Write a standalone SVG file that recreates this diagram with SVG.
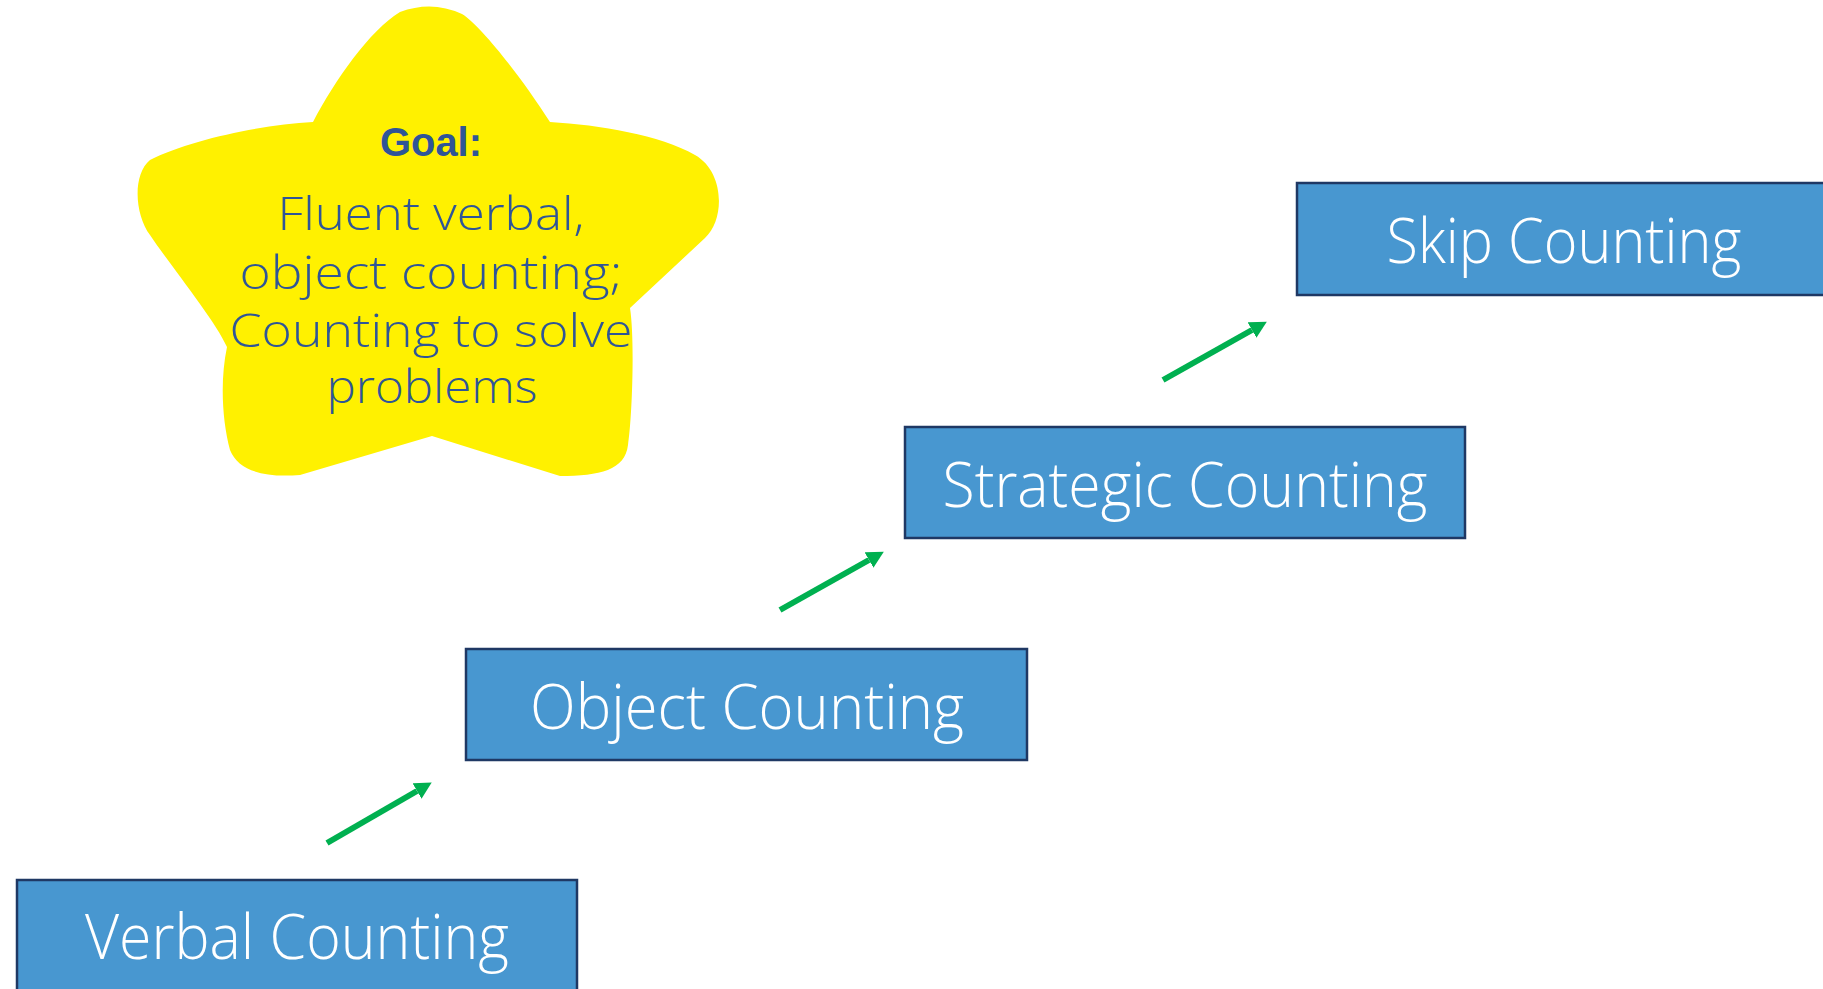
<svg xmlns="http://www.w3.org/2000/svg" width="1823" height="989" viewBox="0 0 1823 989">
<style>
.box{fill:#4897D0;stroke:#1F3864;stroke-width:2.5}
.bt{font-family:"Open Sans","DejaVu Sans",sans-serif;font-weight:300;font-size:62px;fill:#FFFFFF;text-anchor:middle;font-variant-ligatures:none;font-feature-settings:"liga" 0,"clig" 0,"dlig" 0,"calt" 0}
.st{font-family:"Open Sans","DejaVu Sans",sans-serif;font-weight:300;font-size:46px;fill:#2F5597;text-anchor:middle;font-variant-ligatures:none;font-feature-settings:"liga" 0,"clig" 0,"dlig" 0,"calt" 0}
.gl{font-family:"Liberation Sans",Arial,sans-serif;font-weight:bold;font-size:40px;fill:#2F5597;text-anchor:middle}
.arr{stroke:#00B050;stroke-width:6;fill:none}
</style>
<defs>
<marker id="ah" markerUnits="userSpaceOnUse" markerWidth="18" markerHeight="18" refX="0" refY="9" orient="auto" viewBox="0 0 18 18">
<path d="M0,0 L17,9 L0,18 z" fill="#00B050"/>
</marker>
</defs>
<rect width="1823" height="989" fill="#FFFFFF"/>
<g id="goal-star">
<path fill="#FFF100" d="M400,12 Q432,0 462,14 C480,25 520,75 550,122 C600,125 660,135 695,155 C725,172 725,220 705,238 L630,308 C635,340 632,420 628,445 C625,470 600,476 560,476 L432,436 L300,475 C262,478 238,470 230,450 C222,420 220,380 227,347 C215,320 170,265 150,235 C135,215 132,175 150,160 C190,140 260,125 313,122 C335,80 370,30 400,12 Z"/>
<text class="gl" x="431" y="156" textLength="102" lengthAdjust="spacingAndGlyphs">Goal:</text>
<text class="st" x="431" y="230" textLength="307" lengthAdjust="spacingAndGlyphs">Fluent verbal,</text>
<text class="st" x="431" y="289" textLength="383" lengthAdjust="spacingAndGlyphs">object counting;</text>
<text class="st" x="431" y="347" textLength="403" lengthAdjust="spacingAndGlyphs">Counting to solve</text>
<text class="st" x="432" y="403" textLength="211" lengthAdjust="spacingAndGlyphs">problems</text>
</g>
<g id="verbal-counting">
<rect class="box" x="17" y="880" width="560" height="120"/>
<text class="bt" x="297" y="959" textLength="424" lengthAdjust="spacingAndGlyphs">Verbal Counting</text>
</g>
<g id="object-counting">
<rect class="box" x="466" y="649" width="561" height="111"/>
<text class="bt" x="747" y="729" textLength="434" lengthAdjust="spacingAndGlyphs">Object Counting</text>
</g>
<g id="strategic-counting">
<rect class="box" x="905" y="427" width="560" height="111"/>
<text class="bt" x="1185" y="507" textLength="485" lengthAdjust="spacingAndGlyphs">Strategic Counting</text>
</g>
<g id="skip-counting">
<rect class="box" x="1297" y="183" width="560" height="112"/>
<text class="bt" x="1564" y="263" textLength="355" lengthAdjust="spacingAndGlyphs">Skip Counting</text>
</g>
<g id="connectors">
<line class="arr" x1="327" y1="843" x2="417" y2="791" marker-end="url(#ah)"/>
<line class="arr" x1="780" y1="610" x2="869" y2="560" marker-end="url(#ah)"/>
<line class="arr" x1="1163" y1="380" x2="1252" y2="330" marker-end="url(#ah)"/>
</g>
</svg>
